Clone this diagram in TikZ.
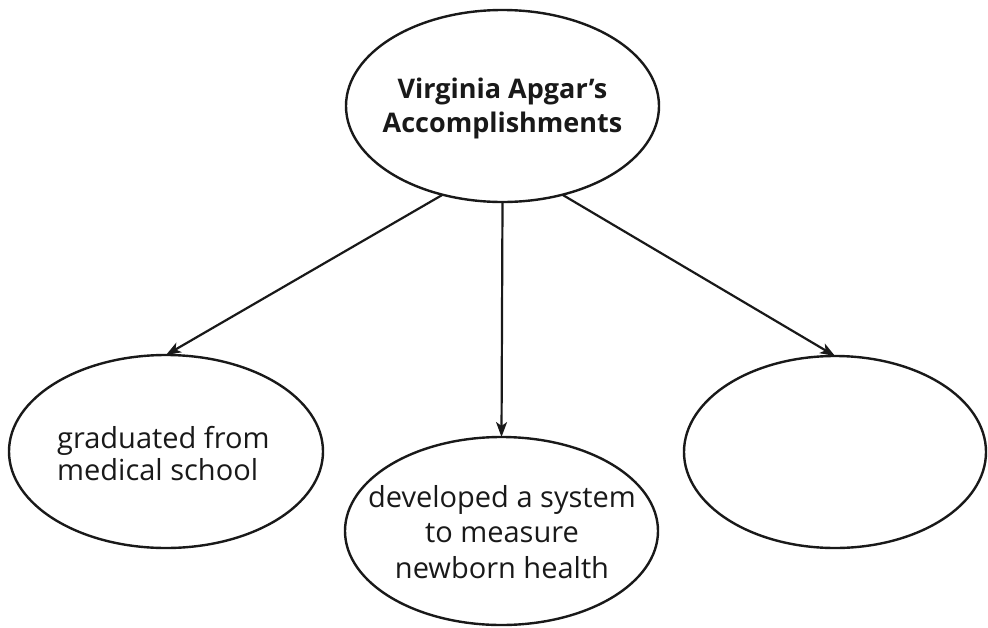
\documentclass[tikz,border=0pt]{standalone}
\usepackage{fontspec}
\setmainfont{Open Sans}
\usetikzlibrary{arrows.meta,shapes.geometric}
\begin{document}
\begin{tikzpicture}[x=1pt,y=-1pt,
  bubble/.style={ellipse,draw=black!90,line width=2.4pt,inner sep=0pt,outer sep=0pt},
  conn/.style={draw=black!90,line width=2.2pt,-{Stealth[length=15pt,width=11pt,inset=4pt]}},
  lbl/.style={inner sep=0pt,text=black!90}]
\useasboundingbox (0,0) rectangle (988,627);
\node[bubble,minimum width=313pt,minimum height=192pt] (top) at (502.5,106) {};
\node[bubble,minimum width=314pt,minimum height=193pt] (left) at (166,451.5) {};
\node[bubble,minimum width=313pt,minimum height=188pt] (mid) at (501.5,531) {};
\node[bubble,minimum width=302pt,minimum height=192pt] (right) at (835,452) {};
\node[lbl,anchor=base,align=center,font=\fontsize{27}{34}\selectfont\bfseries] (toptext) at (502.5,132) {Virginia Apgar’s\\Accomplishments};
\node[lbl,anchor=base west,align=left,font=\fontsize{29}{32}\selectfont] (lefttext) at (57,480) {graduated from\\medical school};
\node[lbl,anchor=base,align=center,font=\fontsize{29}{35.5}\selectfont] (midtext) at (502,578) {developed a system\\to measure\\newborn health};
\draw[conn] (top.236) -- (left.north);
\draw[conn] (top.south) -- (mid.north);
\draw[conn] (top.304) -- (right.north);
\end{tikzpicture}
\end{document}
